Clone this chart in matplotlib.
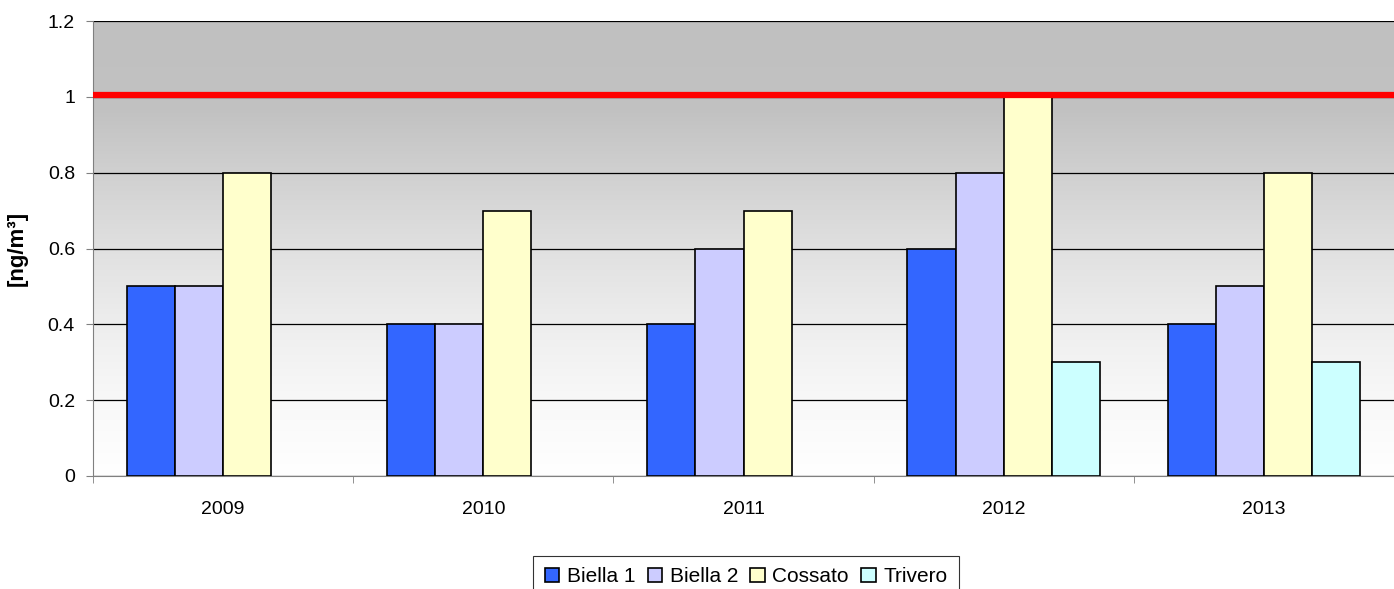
import numpy as np
import matplotlib
matplotlib.use('Agg')
from matplotlib import pyplot as plt
from matplotlib.colors import LinearSegmentedColormap

plt.rcParams['font.family'] = ['Liberation Sans', 'DejaVu Sans']

years = ['2009', '2010', '2011', '2012', '2013']
series = ['Biella 1', 'Biella 2', 'Cossato', 'Trivero']
biella1 = [0.5, 0.4, 0.4, 0.6, 0.4]
biella2 = [0.5, 0.4, 0.6, 0.8, 0.5]
cossato = [0.8, 0.7, 0.7, 1.0, 0.8]
trivero = [np.nan, np.nan, np.nan, 0.3, 0.3]
limit = 1.005
colors = ['#3366FF', '#CCCCFF', '#FFFFCC', '#CCFFFF']

fig = plt.figure(figsize=(13.94, 5.89), dpi=100)
ax = fig.add_axes([93/1394, 1-476/589, 1-93/1394, (476-21)/589])

# gradient background: gray at top, white at bottom
bg = LinearSegmentedColormap.from_list(
    'bg', [(0.0, '#ffffff'), (0.17, '#f8f8f8'), (0.33, '#eeeeee'),
           (0.5, '#e0e0e0'), (0.67, '#d0d0d0'), (0.8, '#c2c2c2'), (1.0, '#c0c0c0')])
ax.imshow(np.linspace(1, 0, 256).reshape(-1, 1), extent=[0, 5, 0, 1.2],
          aspect='auto', cmap=bg, vmin=0, vmax=1, zorder=0)

x = np.arange(len(years)) + 0.5
w = 0.185
data = [biella1, biella2, cossato, trivero]
for i, (name, vals) in enumerate(zip(series, data)):
    ax.bar(x + (i - 1.5) * w, vals, w, color=colors[i], edgecolor='black',
           linewidth=1.2, label=name, zorder=3)

ax.axhline(limit, color='#FF0000', linewidth=4.5, zorder=4)

ax.set_xlim(0, 5)
ax.set_ylim(0, 1.2)
ax.set_yticks([0, 0.2, 0.4, 0.6, 0.8, 1.0, 1.2])
ax.set_yticklabels(['0', '0.2', '0.4', '0.6', '0.8', '1', '1.2'], fontsize=14)
ax.yaxis.grid(True, color='black', linewidth=0.9, zorder=1)
ax.set_axisbelow(True)
ax.set_xticks(x)
ax.set_xticklabels(years, fontsize=14)
ax.tick_params(axis='x', length=0, pad=18)
ax.set_xticks(np.arange(0, 6), minor=True)
ax.tick_params(axis='x', which='minor', length=5, color='#808080')
ax.tick_params(axis='y', length=5, color='#808080', pad=8)
for s in ['top', 'right']:
    ax.spines[s].set_visible(False)
ax.spines['left'].set_color('#808080')
ax.spines['bottom'].set_color('#808080')
ax.set_ylabel('[ng/m³]', fontsize=16, fontweight='bold', labelpad=14)

leg = fig.legend(loc='upper center', bbox_to_anchor=(746/1394, 1-556/589), ncol=4,
                 fontsize=15, frameon=True, fancybox=False, edgecolor='black',
                 handlelength=0.7, handleheight=0.7, handletextpad=0.35,
                 columnspacing=0.6, borderpad=0.55, borderaxespad=0)
leg.get_frame().set_linewidth(0.8)

fig.savefig('out.png', dpi=100)
